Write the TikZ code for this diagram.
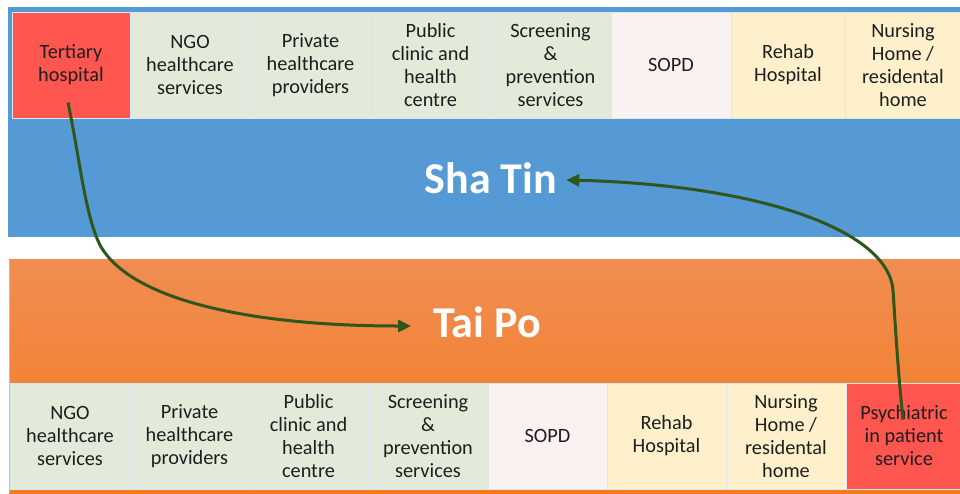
\documentclass[tikz,border=0pt]{standalone}
\usepackage{fontspec}
\setmainfont{Carlito}
\usetikzlibrary{arrows.meta,calc}
\definecolor{bandblue}{HTML}{5599D5}
\definecolor{orangetop}{HTML}{F08D52}
\definecolor{orangebot}{HTML}{F47B20}
\definecolor{cgreen}{HTML}{E2EBD9}
\definecolor{cpink}{HTML}{FAF2F0}
\definecolor{cyellow}{HTML}{FEF0CB}
\definecolor{cred}{HTML}{FF5650}
\definecolor{sepline}{HTML}{DCE4EC}
\definecolor{arrowgreen}{HTML}{2F561C}
\definecolor{txt}{HTML}{1E1E1E}
\begin{document}
\begin{tikzpicture}[x=1pt,y=-1pt,
  cell/.style={rectangle,inner sep=0pt,draw=sepline,line width=0.8pt,
    minimum height=106pt,align=center,text=txt,
    font=\fontsize{20.3}{23}\selectfont},
  bandlabel/.style={text=white,font=\fontsize{44}{50}\selectfont\bfseries,inner sep=0pt},
  flow/.style={draw=arrowgreen,line width=3pt,-{Triangle[length=13pt,width=12pt]}}
]
\useasboundingbox (0,0) rectangle (960,493);
\fill[white] (0,0) rectangle (960,493);
% bands
\fill[bandblue] (8,7) rectangle (962,237);
\shade[top color=orangetop,bottom color=orangebot] (9,259) rectangle (962,493);
\draw[gray!50,line width=0.8pt] (9,260) -- (9,493);
% band labels
\node[bandlabel] (shatin) at (491,178) {Sha Tin};
\node[bandlabel] (taipo) at (487,322) {Tai Po};
% top row (Sha Tin)
\node[cell,fill=cred,minimum width=118pt] (t1) at (71,65) {Tertiary\\hospital};
\node[cell,fill=cgreen,minimum width=120pt] (t2) at (190,65) {NGO\\healthcare\\services};
\node[cell,fill=cgreen,minimum width=121pt] (t3) at (310.5,65) {Private\\healthcare\\providers};
\node[cell,fill=cgreen,minimum width=119pt] (t4) at (430.5,65) {Public\\clinic and\\health\\centre};
\node[cell,fill=cgreen,minimum width=121pt] (t5) at (550.5,65) {Screening\\\&\\prevention\\services};
\node[cell,fill=cpink,minimum width=120pt] (t6) at (671,65) {SOPD};
\node[cell,fill=cyellow,minimum width=114pt] (t7) at (788,65) {Rehab\\Hospital};
\node[cell,fill=cyellow,minimum width=116pt] (t8) at (903,65) {Nursing\\Home /\\residental\\home};
% bottom row (Tai Po)
\node[cell,fill=cgreen,minimum width=120pt] (b1) at (70,436) {NGO\\healthcare\\services};
\node[cell,fill=cgreen,minimum width=119pt] (b2) at (189.5,436) {Private\\healthcare\\providers};
\node[cell,fill=cgreen,minimum width=119pt] (b3) at (308.5,436) {Public\\clinic and\\health\\centre};
\node[cell,fill=cgreen,minimum width=120pt] (b4) at (428,436) {Screening\\\&\\prevention\\services};
\node[cell,fill=cpink,minimum width=119pt] (b5) at (547.5,436) {SOPD};
\node[cell,fill=cyellow,minimum width=119pt] (b6) at (666.5,436) {Rehab\\Hospital};
\node[cell,fill=cyellow,minimum width=120pt] (b7) at (786,436) {Nursing\\Home /\\residental\\home};
\node[cell,fill=cred,minimum width=116pt] (b8) at (904,436) {Psychiatric\\in patient\\service};
% connector anchor points
\coordinate (a1s) at ($(t1.south)+(-3,-16)$);
\coordinate (a1m) at (100,245);
\coordinate (a1e) at ($(taipo.west)+(-22,4)$);
\coordinate (a2s) at ($(b8.north)+(-1,37)$);
\coordinate (a2m) at (893,290);
\coordinate (a2e) at ($(shatin.east)+(9,2)$);
% connectors
\draw[flow] (a1s) .. controls (80,160) and (85,215) .. (a1m)
  .. controls (130,300) and (250,326) .. (a1e);
\draw[flow] (a2s) .. controls (897,360) and (895,320) .. (a2m)
  .. controls (888,230) and (760,185) .. (a2e);
\end{tikzpicture}
\end{document}
